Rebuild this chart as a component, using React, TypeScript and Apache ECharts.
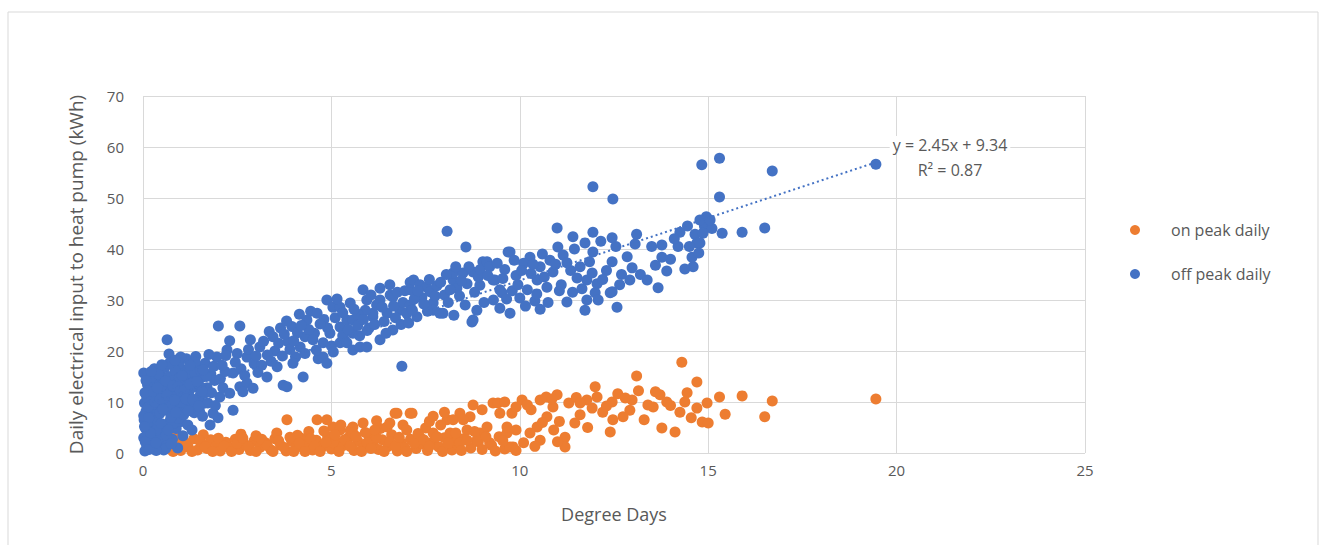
import React, { useEffect, useRef } from "react";
import * as echarts from "echarts";

const xTicks = { min: 0, max: 25, interval: 5 };
const yTicks = { min: 0, max: 70, interval: 10 };

const seriesNames = ["on peak daily", "off peak daily"];
const trendLabel = ["y = 2.45x + 9.34", "R\u00B2 = 0.87"];
const trendSlope = 2.45;
const trendIntercept = 9.34;
const trendXRange = [0, 19.45];

const onPeakDaily: number[][] = [
  [0.3, 1.0], [0.5, 2.5], [0.64, 2.9], [0.7, 0.8], [0.85, 1.8], [1.0, 0.5], [1.1, 2.2], [1.2, 1.2],
  [1.35, 2.8], [1.45, 0.6], [1.55, 1.9], [1.7, 0.9], [1.8, 2.6], [1.95, 1.4], [2.05, 0.4], [2.2, 2.1],
  [2.3, 1.0], [2.45, 2.7], [2.55, 0.7], [2.7, 1.7], [2.85, 0.5], [2.95, 2.4], [3.1, 1.1], [3.25, 2.0],
  [3.4, 0.6], [3.5, 2.8], [3.65, 1.5], [3.8, 0.4], [3.95, 2.3], [4.05, 1.0], [4.2, 2.9], [4.35, 1.7],
  [4.5, 0.6], [4.6, 2.5], [4.75, 1.2], [4.9, 3.3], [5.0, 0.8], [5.15, 2.1], [5.3, 1.4], [5.45, 3.0],
  [5.6, 0.5], [5.7, 2.3], [5.85, 1.1], [6.0, 3.4], [6.1, 1.8], [6.25, 0.7], [6.35, 2.6], [6.5, 1.3],
  [6.6, 3.6], [6.75, 0.4], [6.85, 2.0], [6.95, 1.0], [7.1, 2.7], [7.25, 0.9], [7.4, 1.8], [7.55, 0.5],
  [7.7, 2.2], [7.85, 1.2], [8.0, 3.0], [8.2, 0.6], [8.35, 1.6], [8.5, 2.8], [8.7, 1.0], [8.9, 2.2],
  [9.0, 0.7], [9.25, 1.5], [9.45, 3.2], [9.6, 0.8], [0.9, 3.5], [1.6, 3.6], [2.6, 3.7], [3.0, 3.4],
  [3.55, 3.9], [4.4, 4.2], [5.5, 4.4], [6.3, 4.8], [6.9, 5.5], [7.5, 4.9], [3.82, 6.5], [4.62, 6.5],
  [5.04, 5.1], [7.09, 7.8], [6.74, 7.8], [5.57, 5.1], [8.07, 6.5], [8.41, 7.8], [9.29, 9.8], [9.47, 7.8],
  [8.6, 4.5], [8.94, 3.9], [8.23, 2.5], [7.7, 3.9], [7.35, 3.1], [7.0, 4.5], [6.69, 7.8], [7.14, 7.8],
  [6.48, 5.1], [6.1, 3.9], [5.84, 5.9], [5.57, 3.9], [5.23, 4.5], [4.88, 6.5], [5.04, 2.0], [9.66, 3.9],
  [9.82, 1.2], [14.3, 17.8], [13.1, 15.1], [12.0, 13.0], [14.7, 13.9], [15.9, 11.2], [16.7, 10.2],
  [16.5, 7.1], [15.45, 7.6], [15.3, 11.0], [14.97, 9.8], [14.84, 6.1], [15.0, 5.9], [14.44, 11.8],
  [14.38, 10.0], [14.25, 8.0], [14.7, 8.8], [13.72, 11.4], [13.9, 10.0], [13.54, 9.0], [13.4, 9.4],
  [13.77, 4.9], [14.12, 4.1], [12.98, 10.4], [12.92, 8.4], [12.74, 7.1], [12.45, 10.0], [12.4, 4.1],
  [12.47, 6.5], [12.05, 11.0], [11.78, 10.4], [11.92, 8.8], [11.6, 7.5], [11.46, 5.9], [10.99, 11.4],
  [10.88, 9.0], [10.54, 10.4], [10.72, 7.1], [10.46, 5.1], [10.27, 3.9], [10.54, 2.5], [11.2, 3.1],
  [11.2, 1.2], [10.06, 10.4], [9.79, 7.8], [9.66, 5.1], [9.74, 1.2], [9.42, 9.8], [9.13, 5.1],
  [8.76, 9.4], [8.68, 7.1], [8.23, 6.5], [8.15, 3.9], [8.86, 2.5], [9.2, 2.0], [8.41, 2.0],
  [19.45, 10.6], [11.3, 9.8], [10.3, 8.5], [11.05, 6.2], [12.2, 8.0], [13.15, 12.2], [10.7, 11.0],
  [9.9, 9.0], [11.5, 10.9], [12.6, 11.6], [13.3, 6.5], [7.9, 5.5], [6.2, 6.3], [4.1, 3.5],
  [0.4, 2.0], [0.6, 1.4], [0.8, 0.3], [0.95, 2.6], [1.15, 1.6], [1.3, 0.3], [1.5, 2.4], [1.65, 1.2],
  [1.85, 0.3], [2.0, 2.9], [2.15, 1.3], [2.35, 0.3], [2.5, 1.9], [2.65, 2.9], [2.8, 1.2], [3.0, 0.3],
  [3.15, 2.7], [3.3, 1.4], [3.45, 0.3], [3.6, 2.4], [3.75, 1.1], [3.9, 3.1], [4.0, 0.3], [4.15, 1.9],
  [4.3, 0.3], [4.45, 2.8], [4.55, 1.3], [4.7, 0.3], [4.85, 2.1], [5.1, 3.6], [5.2, 0.3], [5.35, 2.6],
  [5.5, 1.3], [5.65, 3.3], [5.8, 0.3], [5.95, 2.0], [6.05, 0.9], [6.2, 3.0], [6.4, 0.3], [6.55, 2.2],
  [6.7, 1.3], [6.8, 3.1], [7.0, 0.3], [7.2, 1.9], [7.3, 3.8], [7.45, 2.6], [7.6, 1.3], [7.8, 3.2],
  [7.95, 0.3], [8.1, 1.9], [8.3, 3.9], [8.45, 0.5], [8.6, 2.5], [8.8, 4.2], [9.1, 3.2], [9.35, 0.4],
  [9.55, 2.4], [9.9, 0.5], [10.1, 2.0], [10.4, 1.3], [10.9, 4.5], [11.0, 2.2], [6.15, 4.5], [5.9, 4.0],
  [4.8, 4.3], [5.25, 5.5], [6.55, 5.9], [7.6, 6.2], [8.5, 6.5], [9.0, 8.5], [9.6, 10.0], [10.2, 9.4],
  [10.85, 10.6], [11.6, 9.8], [12.3, 9.2], [12.8, 10.8], [13.6, 12.0], [14.0, 9.3], [14.55, 6.9],
  [11.8, 5.0], [10.6, 6.0], [9.9, 4.5], [8.0, 8.0], [7.7, 7.2]
];

const offPeakDaily: number[][] = [
  [0.02, 15.7], [0.04, 9.8], [0.08, 8.2], [0.03, 6.5], [0.07, 4.8], [0.02, 3.0], [0.1, 1.2], [0.05, 0.4],
  [0.18, 10.5], [0.24, 7.2], [0.2, 5.1], [0.28, 3.3], [0.26, 1.5], [0.16, 12.3], [0.33, 13.8], [0.38, 11.2],
  [0.42, 9.1], [0.36, 6.4], [0.44, 4.2], [0.5, 2.2], [0.55, 0.6], [0.47, 15.2], [0.58, 16.8], [0.62, 13.1],
  [0.57, 10.4], [0.66, 8.3], [0.7, 6.1], [0.73, 11.9], [0.76, 14.5], [0.8, 9.6], [0.86, 12.8], [0.83, 7.4],
  [0.9, 15.9], [0.95, 10.9], [1.0, 13.6], [0.98, 8.7], [1.06, 11.4], [1.1, 16.3], [1.13, 9.5], [1.18, 14.1],
  [1.22, 12.2], [1.26, 10.1], [1.3, 15.3], [1.36, 7.9], [1.41, 12.9], [1.44, 16.9], [1.5, 11.1], [1.55, 14.8],
  [1.6, 9.7], [0.69, 19.4], [0.64, 22.2], [0.12, 13.4], [0.88, 4.8], [0.78, 2.7], [0.6, 0.9], [1.02, 6.2],
  [1.06, 3.4], [1.19, 5.5], [0.35, 0.5], [0.92, 1.0], [1.7, 12.8], [1.8, 15.5], [1.65, 17.6], [1.9, 14.2],
  [1.78, 5.5], [1.99, 6.9], [1.86, 7.8], [2.04, 11.0], [0.3, 8.9], [0.52, 12.0], [0.1, 11.0], [1.15, 18.5],
  [1.4, 18.9], [0.95, 17.5], [1.3, 4.5], [1.5, 8.2],
  [0.15, 2.2], [0.22, 14.8], [0.3, 16.5], [0.4, 2.8], [0.45, 7.8], [0.5, 13.2], [0.55, 5.3], [0.62, 3.5],
  [0.68, 15.0], [0.72, 9.0], [0.75, 1.8], [0.8, 5.8], [0.85, 16.2], [0.9, 11.3], [0.94, 6.8], [0.97, 14.8],
  [1.03, 9.9], [1.08, 7.5], [1.12, 13.0], [1.16, 15.5], [1.24, 11.0], [1.28, 8.9], [1.33, 13.8], [1.38, 17.8],
  [1.46, 10.2], [1.52, 13.0], [1.58, 7.2], [1.62, 11.7], [1.68, 15.0], [1.72, 9.8], [1.82, 11.8], [1.88, 17.0],
  [1.92, 9.3], [2.05, 14.5], [2.12, 12.8], [2.18, 16.0], [0.25, 9.5], [0.12, 5.8], [0.05, 11.8], [0.35, 4.5],
  [0.02, 7.3], [0.06, 2.2], [0.16, 0.7], [0.4, 15.5], [0.28, 12.0],
  [0.08, 14.2], [0.14, 9.0], [0.2, 3.9], [0.22, 16.0], [0.32, 10.0], [0.34, 2.0], [0.46, 10.6], [0.48, 5.8],
  [0.53, 8.6], [0.6, 14.1], [0.64, 11.3], [0.67, 4.5], [0.74, 7.0], [0.79, 13.2], [0.84, 10.4], [0.87, 8.0],
  [0.93, 13.0], [0.99, 12.2], [1.04, 15.2], [1.09, 12.3], [1.14, 10.6], [1.2, 8.3], [1.25, 13.5], [1.32, 10.5],
  [1.37, 15.9], [1.43, 14.0], [1.48, 9.2], [1.53, 16.2], [1.57, 12.1], [0.7, 17.6], [0.5, 17.3], [1.0, 18.8],
  [0.85, 18.2], [1.25, 17.2], [0.15, 6.9], [0.04, 5.2], [0.38, 12.8],
  [1.6, 16.3], [1.96, 18.8], [2.0, 24.9], [2.57, 24.9], [2.23, 20.2], [2.39, 15.7], [2.57, 13.0], [2.76, 13.7],
  [2.76, 18.8], [3.1, 20.8], [2.3, 11.7], [2.65, 12.0], [2.92, 12.7], [2.39, 8.4], [2.1, 17.2], [2.5, 19.5],
  [2.8, 20.3], [2.95, 17.5], [2.2, 19.1], [1.75, 19.3], [2.6, 16.5],
  [2.3, 22.0], [2.45, 17.8], [2.7, 15.2], [2.85, 22.2], [3.0, 19.0], [3.05, 15.8], [3.15, 17.2], [3.35, 23.8],
  [3.5, 20.0], [3.65, 24.5], [3.85, 21.8], [3.95, 24.8], [4.05, 18.8], [4.15, 27.2], [4.3, 22.8], [4.45, 27.8],
  [4.55, 23.5], [4.65, 18.5], [4.8, 26.2], [4.9, 24.5], [5.0, 21.0],
  [3.29, 14.9], [3.45, 22.8], [3.56, 16.9], [3.72, 13.3], [3.81, 25.9], [3.82, 13.0], [3.98, 17.6], [4.17, 20.8],
  [4.25, 14.9], [4.35, 26.1], [4.51, 22.2], [4.62, 27.4], [4.78, 18.8], [4.78, 21.6], [4.88, 17.6], [4.96, 23.5],
  [4.88, 30.0], [3.3, 19.2], [3.6, 21.5], [3.9, 20.3], [4.1, 23.6], [3.4, 18.0], [3.7, 19.0], [4.4, 24.2],
  [4.7, 25.3], [4.3, 19.5], [3.2, 21.9], [4.0, 22.0], [4.6, 20.2], [3.75, 23.3], [4.2, 25.0],
  [5.04, 28.6], [5.23, 28.6], [5.23, 24.7], [5.23, 21.6], [5.41, 26.1], [5.41, 21.6], [5.57, 26.1], [5.57, 23.5],
  [5.57, 20.2], [5.76, 20.8], [5.84, 32.0], [5.94, 30.0], [5.94, 20.8], [6.1, 26.7], [6.1, 27.4], [6.29, 32.3],
  [6.29, 30.0], [6.29, 22.2], [6.48, 27.4], [6.56, 31.0], [6.63, 30.6], [6.63, 24.1], [6.82, 28.0], [6.87, 17.0],
  [5.1, 26.5], [5.3, 23.0], [5.7, 25.0], [5.9, 28.0], [6.0, 24.5], [6.2, 29.0], [6.4, 25.8], [6.7, 26.5],
  [6.9, 29.5], [5.5, 29.4], [5.05, 19.8], [5.7, 27.2],
  [5.15, 30.2], [5.3, 27.5], [5.45, 24.2], [5.6, 28.2], [5.75, 23.0], [5.85, 26.2], [5.95, 24.0], [6.05, 31.0],
  [6.15, 25.2], [6.35, 28.6], [6.45, 23.5], [6.55, 33.0], [6.65, 28.8], [6.75, 31.5], [6.85, 25.2], [6.95, 31.8],
  [7.0, 27.4], [7.09, 32.0], [7.09, 33.5], [7.09, 29.0], [7.18, 33.9], [7.27, 26.7], [7.35, 33.0], [7.53, 32.5],
  [7.62, 31.6], [7.7, 29.4], [7.7, 28.0], [7.88, 27.4], [7.96, 27.4], [8.07, 43.5], [8.23, 33.9], [8.23, 35.3],
  [8.33, 32.3], [8.49, 35.3], [8.57, 40.4], [8.73, 25.7], [8.76, 26.1], [8.86, 28.0], [8.76, 35.5], [8.94, 32.9],
  [9.02, 37.5], [7.4, 30.5], [7.8, 32.8], [8.0, 31.0], [8.1, 29.5], [8.4, 30.8], [8.6, 33.2], [8.3, 36.5],
  [8.9, 34.5], [7.2, 30.2], [7.55, 27.8],
  [7.05, 25.5], [7.15, 28.0], [7.3, 31.8], [7.45, 29.2], [7.6, 34.0], [7.75, 30.8], [7.9, 33.5], [8.05, 35.0],
  [8.15, 32.0], [8.25, 27.0], [8.45, 33.8], [8.55, 29.0], [8.65, 36.5], [8.8, 31.5], [8.95, 36.0], [9.05, 29.5],
  [9.13, 37.5], [9.2, 36.5], [9.29, 33.9], [9.34, 33.9], [9.47, 28.4], [9.47, 32.0], [9.53, 31.4], [9.69, 39.4],
  [9.74, 27.4], [9.74, 39.4], [10.0, 30.4], [10.27, 38.4], [10.46, 33.9], [10.54, 36.5], [10.54, 28.2], [10.72, 32.5],
  [10.88, 35.5], [10.99, 44.1], [11.01, 40.4], [9.6, 36.0], [9.9, 34.8], [10.1, 37.2], [10.3, 35.2], [10.6, 39.0],
  [10.8, 37.8], [10.2, 32.0], [9.3, 30.0], [10.4, 29.8], [9.8, 31.8],
  [9.15, 34.8], [9.4, 37.2], [9.55, 34.2], [9.65, 30.2], [9.85, 37.8], [9.95, 33.0], [10.05, 35.8], [10.15, 28.8],
  [10.35, 37.0], [10.45, 31.2], [10.65, 34.5], [10.75, 29.5], [10.95, 37.0], [11.05, 31.8], [11.15, 38.8], [11.35, 35.8],
  [11.45, 40.0], [11.65, 32.2], [11.85, 37.5], [12.05, 33.2], [12.15, 41.5], [12.3, 35.8], [12.55, 40.5], [12.65, 33.0],
  [12.85, 38.5], [13.2, 35.0], [13.5, 40.5], [13.6, 36.8], [14.0, 38.0], [14.2, 40.5], [14.45, 44.5], [14.6, 36.5],
  [14.9, 44.5], [15.1, 44.0], [14.95, 46.3],
  [11.25, 37.3], [11.25, 29.6], [11.41, 42.4], [11.52, 34.3], [11.73, 41.2], [11.73, 28.0], [11.78, 33.9], [11.78, 30.0],
  [11.92, 35.3], [11.94, 39.4], [11.94, 43.3], [11.94, 52.2], [12.0, 31.4], [12.08, 30.0], [12.4, 31.4], [12.45, 42.2],
  [12.45, 37.5], [12.45, 31.6], [12.47, 49.8], [12.58, 28.6], [12.92, 33.9], [12.98, 36.3], [13.06, 41.0], [13.1, 42.9],
  [11.1, 33.0], [11.6, 36.5], [12.2, 34.0], [12.7, 35.0], [11.4, 31.5],
  [13.38, 33.9], [13.67, 32.4], [13.77, 40.8], [13.77, 38.4], [13.9, 35.7], [14.25, 43.3], [14.38, 36.1], [14.57, 38.4],
  [14.65, 42.9], [14.7, 41.2], [14.83, 56.5], [14.78, 45.7], [15.05, 45.7], [14.86, 43.1], [14.78, 41.2], [14.75, 39.2],
  [15.3, 57.8], [15.3, 50.2], [15.37, 43.1], [15.9, 43.3], [16.5, 44.1], [16.7, 55.3], [19.45, 56.6], [14.5, 40.5],
  [14.1, 42.0]
];

export default function App() {
  const ref = useRef<HTMLDivElement>(null);

  useEffect(() => {
    if (!ref.current) return;
    const chart = echarts.init(ref.current, undefined, { renderer: "svg" });
    const textColor = "#595959";
    const gridColor = "#d9d9d9";
    const font = "'Open Sans', 'Liberation Sans', Arial, sans-serif";
    const trendData = trendXRange.map((x) => [x, trendSlope * x + trendIntercept]);

    const labelText = (txt: string, y: number) => ({
      type: "text",
      x: 950,
      y,
      z: 100,
      style: {
        text: txt,
        fill: textColor,
        font: `16px ${font}`,
        textAlign: "center",
        textVerticalAlign: "middle",
        backgroundColor: "#ffffff",
        padding: [1, 3],
      },
    });

    chart.setOption({
      animation: false,
      backgroundColor: "#ffffff",
      textStyle: { fontFamily: font },
      grid: { left: 143, right: 240, top: 96, bottom: 92 },
      legend: {
        orient: "vertical",
        left: 1125,
        top: 217,
        itemWidth: 62,
        itemHeight: 10,
        itemGap: 28,
        data: seriesNames,
        textStyle: { color: textColor, fontSize: 16, fontFamily: font },
      },
      graphic: [
        {
          type: "rect",
          shape: { x: 8, y: 12, width: 1310, height: 545 },
          style: { fill: "none", stroke: "#d9d9d9", lineWidth: 1 },
          silent: true,
        },
        labelText(trendLabel[0], 145),
        labelText(trendLabel[1], 170),
      ],
      xAxis: {
        type: "value",
        min: xTicks.min,
        max: xTicks.max,
        interval: xTicks.interval,
        name: "Degree Days",
        nameLocation: "middle",
        nameGap: 52,
        nameTextStyle: { color: textColor, fontSize: 18, fontFamily: font },
        axisLine: { show: false },
        axisTick: { show: false },
        axisLabel: { color: textColor, fontSize: 15, margin: 9, fontFamily: font },
        splitLine: { show: true, lineStyle: { color: gridColor, width: 1 } },
      },
      yAxis: {
        type: "value",
        min: yTicks.min,
        max: yTicks.max,
        interval: yTicks.interval,
        name: "Daily electrical input to heat pump (kWh)",
        nameLocation: "middle",
        nameGap: 58,
        nameTextStyle: { color: textColor, fontSize: 19, fontFamily: font },
        axisLine: { show: false },
        axisTick: { show: false },
        axisLabel: { color: textColor, fontSize: 15, margin: 19, fontFamily: font },
        splitLine: { show: true, lineStyle: { color: gridColor, width: 1 } },
      },
      series: [
        {
          name: seriesNames[0],
          type: "scatter",
          data: onPeakDaily,
          symbol: "circle",
          symbolSize: 11,
          itemStyle: { color: "#ED7D31", opacity: 1 },
        },
        {
          name: seriesNames[1],
          type: "scatter",
          data: offPeakDaily,
          symbol: "circle",
          symbolSize: 11,
          itemStyle: { color: "#4472C4", opacity: 1 },
        },
        {
          name: "trend",
          type: "line",
          data: trendData,
          showSymbol: false,
          symbol: "none",
          lineStyle: { color: "#4472C4", width: 2, type: [2, 3] },
          z: 3,
        },
      ],
    });

    return () => chart.dispose();
  }, []);

  return (
    <div
      ref={ref}
      style={{ position: "absolute", left: 0, top: 0, width: 1325, height: 545 }}
    />
  );
}
